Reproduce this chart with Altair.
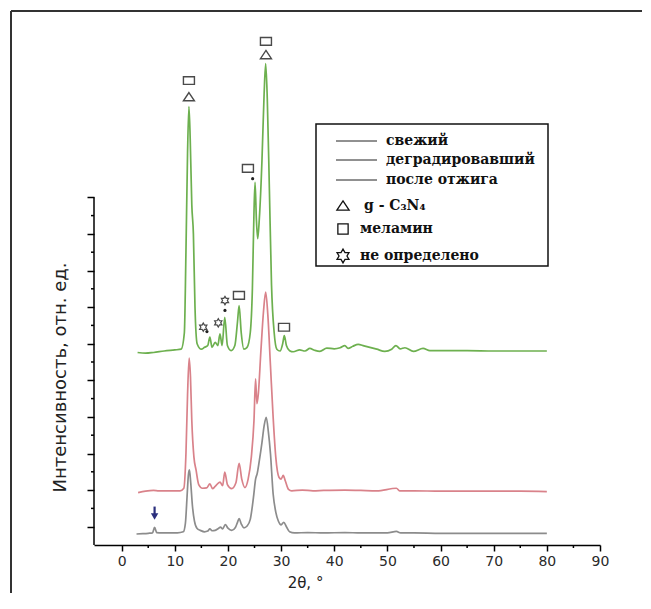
import altair as alt
import pandas as pd

# ---------------- data ----------------
series_names = ["свежий", "деградировавший", "после отжига"]

fresh_x = [2.8, 4.0, 5.0, 5.8, 6.2, 6.6, 7.5, 9.0, 10.5, 11.6, 12.0, 12.3, 12.55, 12.75, 13.0, 13.3,
           13.7, 14.2, 14.8, 15.6, 16.2, 16.6, 17.0, 17.6, 18.2, 18.6, 19.0, 19.5, 20.0, 20.7, 21.4,
           21.8, 22.1, 22.5, 23.0, 23.6, 24.2, 24.8, 25.2, 25.5, 25.9, 26.4, 26.8, 27.2, 27.6, 28.0,
           28.5, 29.0, 29.5, 30.0, 30.5, 31.0, 31.6, 32.5, 35, 38, 42, 45, 50, 51.7, 52.5, 55, 60,
           65, 70, 75, 80]
fresh_y = [0.80, 0.81, 0.82, 0.83, 0.98, 0.84, 0.83, 0.83, 0.83, 0.86, 1.1, 1.8, 2.4, 2.55, 2.2, 1.6,
           1.15, 0.95, 0.9, 0.86, 0.88, 0.94, 0.89, 0.9, 0.95, 0.99, 0.94, 1.06, 0.96, 0.9, 0.98,
           1.12, 1.22, 1.08, 0.97, 1.02, 1.2, 1.8, 2.3, 2.45, 2.8, 3.3, 3.75, 3.99, 3.6, 3.0,
           1.9, 1.4, 1.15, 1.05, 1.12, 1.0, 0.86, 0.83, 0.84, 0.83, 0.84, 0.83, 0.83, 0.87, 0.83, 0.83, 0.82,
           0.82, 0.82, 0.82, 0.82]

degr_x = [3.1, 4.5, 6.0, 7.0, 9.0, 11.0, 11.7, 12.1, 12.4, 12.7, 12.95, 13.2, 13.6, 14.0, 14.5, 15.2,
          16.0, 16.6, 17.1, 17.6, 18.5, 19.0, 19.4, 19.9, 20.7, 21.5, 22.1, 22.6, 23.2, 23.8, 24.4,
          24.9, 25.2, 25.45, 25.7, 26.2, 26.7, 27.1, 27.5, 28.0, 28.5, 29.0, 29.6, 30.0, 30.4, 30.8,
          31.4, 32.0, 34, 36, 38, 42, 45, 48, 51.7, 52.3, 55, 60, 65, 70, 75, 80]
degr_y = [1.93, 1.97, 1.99, 1.98, 1.98, 1.98, 2.05, 3.0, 4.6, 5.61, 5.1, 3.9, 2.9, 2.55, 2.15, 2.05,
          2.06, 2.17, 2.04, 2.1, 2.22, 2.12, 2.49, 2.15, 2.04, 2.2, 2.73, 2.3, 2.07, 2.3, 2.9,
          3.9, 5.04, 4.36, 4.6, 5.8, 6.9, 7.41, 6.8, 5.4, 4.0, 2.9, 2.35, 2.3, 2.4, 2.25,
          2.02, 1.98, 2.0, 1.98, 1.99, 2.0, 1.99, 1.98, 2.05, 1.98, 1.98, 1.97, 1.97, 1.97, 1.97, 1.96]

ann_x = [3.0, 4.5, 6.0, 8.0, 10.0, 11.2, 11.8, 12.1, 12.4, 12.66, 12.9, 13.2, 13.5, 13.8, 14.2, 15.0,
         15.6, 16.2, 16.6, 17.0, 17.6, 18.1, 18.5, 18.9, 19.4, 19.9, 20.6, 21.3, 21.8, 22.1, 22.5,
         23.0, 23.6, 24.2, 24.6, 24.9, 25.1, 25.35, 25.6, 25.9, 26.4, 26.8, 27.1, 27.4, 27.8, 28.2,
         28.7, 29.2, 29.8, 30.3, 30.6, 31.0, 31.6, 32.3, 33.5, 34.5, 35.4, 36.3, 37.3, 38.6, 40.0,
         41.1, 42.0, 42.6, 43.5, 44.5, 45.6, 46.7, 48.0, 49.5, 50.8, 51.6, 52.4, 53.3, 54.9, 56.7,
         58.0, 60, 65, 70, 75, 80]
ann_y = [5.76, 5.74, 5.76, 5.8, 5.83, 5.85, 6.3, 8.5, 11.2, 12.48, 11.6, 9.8, 9.0, 7.0, 6.0, 5.85,
         5.9, 5.95, 6.18, 5.9, 6.04, 5.95, 6.27, 5.95, 6.72, 5.95, 5.81, 5.95, 6.6, 7.04, 6.3,
         5.85, 5.9, 6.3, 7.5, 9.6, 10.41, 9.4, 8.87, 9.4, 11.0, 12.8, 13.65, 12.7, 10.2, 7.6,
         6.3, 5.85, 5.8, 6.0, 6.22, 5.95, 5.81, 5.78, 5.83, 5.8, 5.87, 5.82, 5.79, 5.88, 5.86,
         5.89, 5.95, 5.87, 5.93, 5.98, 5.94, 5.9, 5.85, 5.79, 5.85, 5.95, 5.86, 5.89, 5.79, 5.87,
         5.81, 5.81, 5.81, 5.80, 5.80, 5.80]

series_colors = ["#8c8c8c", "#d9828a", "#6db04f"]

# peak markers
tri_x = [12.66, 27.15]
tri_y = [12.75, 13.9]
sq_x = [12.66, 27.15, 23.76, 22.07, 30.55]
sq_y = [13.19, 14.26, 10.79, 7.32, 6.45]
star_x = [15.36, 18.18, 19.44]
star_y = [6.45, 6.57, 7.18]
dot_x = [24.65, 19.44, 16.05]
dot_y = [10.51, 6.91, 6.33]
arrow_x = [6.2]
arrow_tip = [1.28]
arrow_tail = [1.55]

x_major = list(range(0, 91, 10))
x_minor = list(range(5, 90, 10))
y_major = list(range(1, 11))
y_minor = [1.5 + i for i in range(9)]
y_axis_range = [0.5, 10]

legend_labels = ["свежий", "деградировавший", "после отжига", "g - C₃N₄", "меламин", "не определено"]

# ---------------- build ----------------
rows = []
for name, xs_, ys_ in zip(series_names, [fresh_x, degr_x, ann_x], [fresh_y, degr_y, ann_y]):
    for a, b in zip(xs_, ys_):
        rows.append({"x": a, "y": b, "s": name})
curves = pd.DataFrame(rows)

xs = alt.Scale(domain=[-5.2, 90], nice=False, zero=False)
ys = alt.Scale(domain=[0.5, 14.817], nice=False, zero=False)

TRI = "M0,-0.75L1,0.75L-1,0.75Z"
SQ = "M-1,-0.7L1,-0.7L1,0.7L-1,0.7Z"
SQL = "M-0.9,-0.9L0.9,-0.9L0.9,0.9L-0.9,0.9Z"
STAR = ("M0,-1L0.2887,-0.5L0.866,-0.5L0.5774,0L0.866,0.5L0.2887,0.5L0,1L-0.2887,0.5"
        "L-0.866,0.5L-0.5774,0L-0.866,-0.5L-0.2887,-0.5Z")

x_axis = alt.Axis(
    values=x_major, grid=False, domainColor="black", domainWidth=1.5,
    tickColor="black", tickWidth=1.5, tickSize=6,
    labelFont="DejaVu Sans", labelFontSize=14, labelColor="#2a2a2a", labelPadding=3,
    labelFlush=False, labelOverlap=False,
    title="2θ, °", titleFont="DejaVu Sans", titleFontSize=15, titleFontWeight="normal",
    titleColor="#222", titleX=211, titleY=37, titleBaseline="middle", titleAlign="center",
)
y_axis = alt.Axis(
    values=y_major, grid=False, domain=False, labels=False,
    tickColor="black", tickWidth=1.5, tickSize=7,
    title="Интенсивность, отн. ед.", titleFont="DejaVu Sans", titleFontSize=18,
    titleFontWeight="normal", titleColor="#222", titleX=-34, titleY=356,
    titleAngle=270, titleBaseline="middle", titleAlign="center",
)


def X(field):
    return alt.X(field, scale=xs, axis=x_axis)


def Y(field):
    return alt.Y(field, scale=ys, axis=y_axis)


lines = alt.Chart(curves).mark_line(strokeWidth=1.7, interpolate="monotone").encode(
    x=X("x:Q"), y=Y("y:Q"),
    color=alt.Color("s:N", scale=alt.Scale(domain=series_names, range=series_colors), legend=None),
    detail="s:N",
)

yline = alt.Chart(pd.DataFrame({"y0": [y_axis_range[0]], "y1": [y_axis_range[1]]})).mark_rule(
    color="black", strokeWidth=1.5).encode(x=alt.value(0), y=Y("y0:Q"), y2="y1:Q")

x_minor_ticks = alt.Chart(pd.DataFrame({"v": x_minor})).mark_rule(
    color="black", strokeWidth=1.5).encode(x=X("v:Q"), y=alt.value(524), y2=alt.value(527))
y_minor_ticks = alt.Chart(pd.DataFrame({"v": y_minor})).mark_rule(
    color="black", strokeWidth=1.5).encode(y=Y("v:Q"), x=alt.value(0), x2=alt.value(-3))


def markers(xv, yv, shape, size, filled=False, color="#4a4a4a", sw=1.4):
    return alt.Chart(pd.DataFrame({"x": xv, "y": yv})).mark_point(
        shape=shape, size=size, filled=filled, color=color, strokeWidth=sw, opacity=1,
        fillOpacity=1 if filled else 0).encode(x=X("x:Q"), y=Y("y:Q"))


tris = markers(tri_x, tri_y, TRI, 121)
sqs = markers(sq_x, sq_y, SQ, 121)
stars = markers(star_x, star_y, STAR, 70, sw=1.2)
dots = markers(dot_x, dot_y, "circle", 10, filled=True, color="#222")

arrow_df = pd.DataFrame({"x": arrow_x, "tip": arrow_tip, "tail": arrow_tail})
arrow_shaft = alt.Chart(arrow_df).mark_rule(color="#2b2f7d", strokeWidth=2.2).encode(
    x=X("x:Q"), y=Y("tip:Q"), y2="tail:Q")
arrow_head = alt.Chart(arrow_df).mark_point(shape="triangle-down", size=55, filled=True,
                                           color="#2b2f7d", opacity=1).encode(
    x=X("x:Q"), y=Y("tip:Q"))

one = alt.Data(values=[{"k": 0}])

# frame around the figure
frame_left = alt.Chart(one).mark_rule(color="#333", strokeWidth=2).encode(
    x=alt.value(-83), y=alt.value(-10), y2=alt.value(580))
frame_top = alt.Chart(one).mark_rule(color="#333", strokeWidth=2).encode(
    x=alt.value(-83), x2=alt.value(548), y=alt.value(-10))

# legend box
leg_box = alt.Chart(one).mark_rect(fill="white", stroke="#111", strokeWidth=1.5).encode(
    x=alt.value(222), x2=alt.value(454), y=alt.value(103), y2=alt.value(245))

legend_layers = [leg_box]
line_rows = [120, 139, 159]
for lab, yy in zip(legend_labels[:3], line_rows):
    legend_layers.append(alt.Chart(one).mark_rule(color="#222", strokeWidth=1).encode(
        x=alt.value(242), x2=alt.value(283), y=alt.value(yy)))
    legend_layers.append(alt.Chart(one).mark_text(
        text=lab, align="left", baseline="middle", font="DejaVu Serif", fontWeight="bold",
        fontSize=14, color="#111").encode(x=alt.value(292), y=alt.value(yy)))

sym_rows = [(TRI, 184.5, 270, 150), (SQL, 208, 266, 130), (STAR, 235, 266, 190)]
for lab, (shp, yy, tx, sz) in zip(legend_labels[3:], sym_rows):
    legend_layers.append(alt.Chart(one).mark_point(
        shape=shp, size=sz, filled=False, color="#111", strokeWidth=1.3, opacity=1).encode(
        x=alt.value(249), y=alt.value(yy)))
    legend_layers.append(alt.Chart(one).mark_text(
        text=lab, align="left", baseline="middle", font="DejaVu Serif", fontWeight="bold",
        fontSize=14, color="#111").encode(x=alt.value(tx), y=alt.value(yy)))

chart = alt.layer(
    lines, frame_left, frame_top, yline, x_minor_ticks, y_minor_ticks,
    tris, sqs, stars, dots, arrow_shaft, arrow_head,
    *legend_layers
).properties(
    width=506, height=524,
    autosize=alt.AutoSizeParams(type="none"),
    padding={"left": 86, "top": 13, "right": 42, "bottom": 48},
    background="white",
).configure_view(stroke=None)

chart.save("out.html", embed_options={"renderer": "svg", "actions": False})
